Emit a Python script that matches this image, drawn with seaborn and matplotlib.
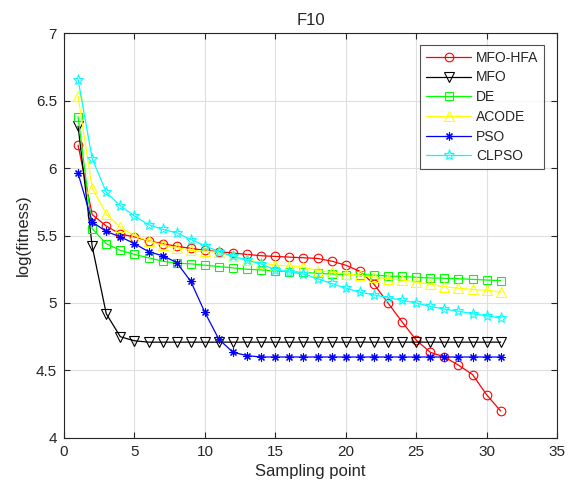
import numpy as np
import pandas as pd
import seaborn as sns
import matplotlib
matplotlib.use("Agg")
import matplotlib.pyplot as plt

x = list(range(1, 32))

mfo_hfa = [6.17, 5.655, 5.57, 5.51, 5.49, 5.46, 5.44, 5.42, 5.405, 5.39,
           5.38, 5.37, 5.36, 5.35, 5.345, 5.34, 5.335, 5.33, 5.31, 5.28,
           5.235, 5.14, 5.00, 4.86, 4.725, 4.635, 4.60, 4.54, 4.47, 4.32, 4.20]
mfo = [6.31, 5.42, 4.92, 4.75, 4.72] + [4.71] * 26
de = [6.38, 5.55, 5.44, 5.39, 5.36, 5.335, 5.31, 5.295, 5.29, 5.28,
      5.27, 5.26, 5.25, 5.245, 5.237, 5.232, 5.227, 5.22, 5.215, 5.21,
      5.21, 5.207, 5.20, 5.197, 5.19, 5.186, 5.183, 5.18, 5.175, 5.17, 5.166]
acode = [6.53, 5.85, 5.66, 5.56, 5.50, 5.46, 5.43, 5.41, 5.39, 5.385,
         5.375, 5.35, 5.32, 5.30, 5.28, 5.275, 5.265, 5.24, 5.23, 5.215,
         5.205, 5.19, 5.18, 5.17, 5.155, 5.14, 5.12, 5.11, 5.10, 5.095, 5.08]
pso = [5.96, 5.60, 5.53, 5.49, 5.44, 5.38, 5.35, 5.30, 5.16, 4.93,
       4.73, 4.635, 4.61, 4.60] + [4.60] * 17
clpso = [6.655, 6.07, 5.82, 5.72, 5.645, 5.58, 5.545, 5.52, 5.47, 5.425,
         5.38, 5.345, 5.315, 5.29, 5.245, 5.23, 5.215, 5.18, 5.145, 5.11,
         5.08, 5.06, 5.04, 5.02, 5.00, 4.975, 4.955, 4.94, 4.92, 4.905, 4.89]

names = ["MFO-HFA", "MFO", "DE", "ACODE", "PSO", "CLPSO"]
series = [mfo_hfa, mfo, de, acode, pso, clpso]
colors = ["#FF0000", "#000000", "#00FF00", "#FFFF00", "#0000FF", "#00FFFF"]
markers = ["o", "v", "s", "^", (8, 2, 0), "*"]
msizes = [6.2, 6.5, 6.0, 7.0, 5.8, 8.0]

sns.set_theme(style="white")
plt.rcParams["font.family"] = ["Liberation Sans", "DejaVu Sans"]

fig = plt.figure(figsize=(5.69, 4.93), dpi=100)
ax = fig.add_axes([0.1125, 0.1116, 0.8665, 0.8214])

for name, vals, c, m, ms in zip(names, series, colors, markers, msizes):
    df = pd.DataFrame({"x": x, "y": vals})
    sns.lineplot(data=df, x="x", y="y", ax=ax, color=c, marker=m,
                 markersize=ms, markerfacecolor="none", markeredgecolor=c,
                 markeredgewidth=0.8, linewidth=0.9, label=name)

ax.set_xlim(0, 35)
ax.set_ylim(4, 7)
ax.set_xticks(range(0, 36, 5))
ax.set_yticks([4, 4.5, 5, 5.5, 6, 6.5, 7])
ax.set_yticklabels(["4", "4.5", "5", "5.5", "6", "6.5", "7"])
ax.grid(True, color="#dfdfdf", linewidth=0.8)
ax.set_axisbelow(True)
for s in ax.spines.values():
    s.set_color("#262626")
    s.set_linewidth(0.8)
    s.set_visible(True)
ax.tick_params(direction="in", length=4, width=0.8, colors="#262626",
               labelsize=11, top=True, right=True, bottom=True, left=True,
               pad=5)
ax.set_xlabel("Sampling point", fontsize=12, color="#262626")
ax.set_ylabel("log(fitness)", fontsize=12, color="#262626")
ax.set_title("F10", fontsize=12, color="#262626", pad=6)

leg = ax.legend(loc="upper right", bbox_to_anchor=(0.974, 0.970), fontsize=10,
                frameon=True, fancybox=False, edgecolor="#262626",
                handlelength=3.3, borderpad=0.4, labelspacing=0.41,
                handletextpad=0.35, borderaxespad=0.0)
leg.get_frame().set_linewidth(0.8)

fig.savefig("out.png", dpi=100)
